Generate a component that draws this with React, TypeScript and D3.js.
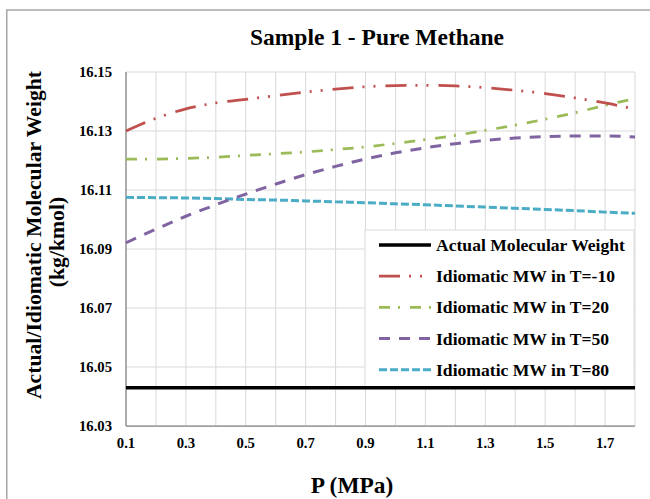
import React from "react";
import * as d3 from "d3";

const pressure = [0.1, 0.2, 0.3, 0.4, 0.5, 0.6, 0.7, 0.8, 0.9, 1.0, 1.1, 1.2, 1.3, 1.4, 1.5, 1.6, 1.7, 1.8];
const actualMW = [16.043, 16.043, 16.043, 16.043, 16.043, 16.043, 16.043, 16.043, 16.043, 16.043, 16.043, 16.043, 16.043, 16.043, 16.043, 16.043, 16.043, 16.043];
const mwTm10 = [16.1300, 16.1343, 16.1375, 16.1395, 16.1407, 16.1420, 16.1432, 16.1442, 16.1450, 16.1454, 16.1455, 16.1453, 16.1447, 16.1438, 16.1427, 16.1412, 16.1395, 16.1374];
const mwT20 = [16.1205, 16.1205, 16.1207, 16.1211, 16.1217, 16.1223, 16.1229, 16.1237, 16.1246, 16.1258, 16.1271, 16.1285, 16.1302, 16.1320, 16.1340, 16.1362, 16.1387, 16.1410];
const mwT50 = [16.0921, 16.0967, 16.1011, 16.1050, 16.1086, 16.1120, 16.1152, 16.1180, 16.1205, 16.1226, 16.1243, 16.1257, 16.1268, 16.1276, 16.1281, 16.1283, 16.1283, 16.1280];
const mwT80 = [16.1075, 16.1074, 16.1073, 16.1071, 16.1068, 16.1066, 16.1063, 16.1060, 16.1057, 16.1053, 16.1050, 16.1046, 16.1042, 16.1038, 16.1034, 16.1030, 16.1025, 16.1021];

const yTicks = [16.03, 16.05, 16.07, 16.09, 16.11, 16.13, 16.15];
const xTickLabels = [0.1, 0.3, 0.5, 0.7, 0.9, 1.1, 1.3, 1.5, 1.7];
const xGrid = [0.1, 0.2, 0.3, 0.4, 0.5, 0.6, 0.7, 0.8, 0.9, 1.0, 1.1, 1.2, 1.3, 1.4, 1.5, 1.6, 1.7, 1.8];

const seriesNames = [
  "Actual Molecular Weight",
  "Idiomatic MW in T=-10",
  "Idiomatic MW in T=20",
  "Idiomatic MW in T=50",
  "Idiomatic MW in T=80",
];

const FONT = "'Liberation Serif', 'Times New Roman', serif";

export default function App() {
  const W = 650, H = 499;
  const left = 126, right = 635, top = 72, bottom = 426;
  const x = d3.scaleLinear().domain([0.1, 1.8]).range([left, right]);
  const y = d3.scaleLinear().domain([16.03, 16.15]).range([bottom, top]);

  const styles = [
    { color: "#000000", width: 3.5, dash: "" },
    { color: "#C0504D", width: 2.75, dash: "21 9 2 9 2 10" },
    { color: "#9BBB59", width: 2.75, dash: "11 8 2 10" },
    { color: "#8064A2", width: 3, dash: "11 9" },
    { color: "#4BACC6", width: 3, dash: "8 3" },
  ];
  const allSeries = [actualMW, mwTm10, mwT20, mwT50, mwT80];

  const line = d3
    .line<number>()
    .x((_, i) => x(pressure[i]))
    .y((d) => y(d))
    .curve(d3.curveMonotoneX);

  const legX = 365, legY = 230, legW = 269, legH = 157;
  const legRow = (i: number) => 245 + i * 31.2;

  const drawOrder = [4, 3, 2, 1];

  return (
    <svg width={W} height={H} style={{ position: "absolute", left: 0, top: 0 }} fontFamily={FONT}>
      <rect x={0} y={0} width={W} height={H} fill="#ffffff" />
      <rect x={6.75} y={10} width={W + 20} height={H + 20} fill="#ffffff" stroke="#a6a6a6" strokeWidth={1.5} />

      {/* gridlines */}
      {yTicks.map((t) => (
        <line key={"gy" + t} x1={left} x2={right} y1={y(t)} y2={y(t)} stroke="#d9d9d9" strokeWidth={1} />
      ))}
      {xGrid.map((t) => (
        <line key={"gx" + t} x1={x(t)} x2={x(t)} y1={top} y2={bottom} stroke="#d9d9d9" strokeWidth={1} />
      ))}
      {/* axes */}
      <line x1={left} x2={left} y1={top} y2={bottom} stroke="#868686" strokeWidth={1.25} />
      <line x1={left} x2={right} y1={bottom} y2={bottom} stroke="#868686" strokeWidth={1.25} />

      {/* series */}
      {drawOrder.map((i) => (
        <path
          key={"s" + i}
          d={line(allSeries[i]) || ""}
          fill="none"
          stroke={styles[i].color}
          strokeWidth={styles[i].width}
          strokeDasharray={styles[i].dash || undefined}
        />
      ))}

      {/* legend */}
      <rect x={legX} y={legY} width={legW} height={legH} fill="#ffffff" stroke="#d9d9d9" strokeWidth={1} />
      {seriesNames.map((name, i) => (
        <g key={"l" + i}>
          <line
            x1={379}
            x2={431}
            y1={legRow(i)}
            y2={legRow(i)}
            stroke={styles[i].color}
            strokeWidth={styles[i].width}
            strokeDasharray={styles[i].dash || undefined}
          />
          <text x={436} y={legRow(i)} dy="0.34em" fontSize={17.6} fontWeight="bold" fill="#000">
            {name}
          </text>
        </g>
      ))}

      {/* actual MW on top */}
      <path d={line(actualMW) || ""} fill="none" stroke={styles[0].color} strokeWidth={styles[0].width} />

      {/* y tick labels */}
      {yTicks.map((t) => (
        <text key={"ty" + t} x={112} y={y(t)} dy="0.35em" textAnchor="end" fontSize={14.7} fontWeight="bold">
          {t.toFixed(2)}
        </text>
      ))}
      {/* x tick labels */}
      {xTickLabels.map((t) => (
        <text key={"tx" + t} x={x(t)} y={448} textAnchor="middle" fontSize={14.7} fontWeight="bold">
          {t.toFixed(1)}
        </text>
      ))}

      {/* titles */}
      <text x={377} y={45} textAnchor="middle" fontSize={23.5} fontWeight="bold">
        Sample 1 - Pure Methane
      </text>
      <text x={352} y={493} textAnchor="middle" fontSize={23.4} fontWeight="bold">
        P (MPa)
      </text>
      <text transform="translate(41,235) rotate(-90)" textAnchor="middle" fontSize={21.7} fontWeight="bold">
        Actual/Idiomatic Molecular Weight
      </text>
      <text transform="translate(64,242) rotate(-90)" textAnchor="middle" fontSize={21.7} fontWeight="bold">
        (kg/kmol)
      </text>
    </svg>
  );
}
